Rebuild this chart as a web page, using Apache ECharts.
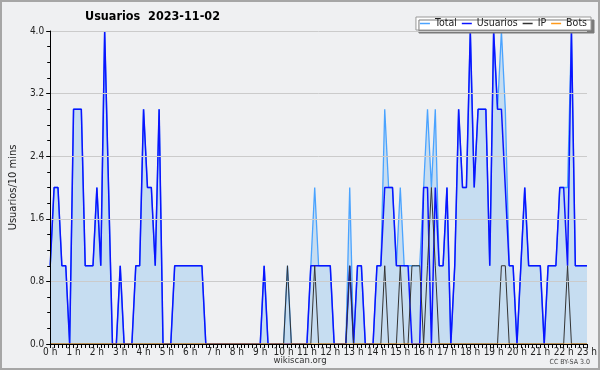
<!DOCTYPE html>
<html><head><meta charset="utf-8">
<script src="https://cdn.jsdelivr.net/npm/echarts@6/dist/echarts.min.js"></script>
<style>html,body{margin:0;padding:0;background:#eff0f2}#c{width:600px;height:370px}</style>
</head><body><div id="c"></div>
<script>
// 10-minute slots from 00:00 to 23:00 (139 points)
var categories = [];
for (var h = 0; h < 24; h++) { for (var m = 0; m < 60; m += 10) { categories.push((h < 10 ? '0' : '') + h + ':' + (m < 10 ? '0' : '') + m); } }
categories = categories.slice(0, 139);

var hourLabels = ['0 h','1 h','2 h','3 h','4 h','5 h','6 h','7 h','8 h','9 h','10 h','11 h','12 h','13 h','14 h','15 h','16 h','17 h','18 h','19 h','20 h','21 h','22 h','23 h'];
var yTicks = [0, 0.8, 1.6, 2.4, 3.2, 4.0];

var total = [
  1,2,2,1,1,0,3,3,3,1,1,1,
  2,1,4,2,0,0,1,0,0,0,1,1,
  3,2,2,1,3,0,0,0,1,1,1,1,
  1,1,1,1,0,0,0,0,0,0,0,0,
  0,0,0,0,0,0,0,1,0,0,0,0,
  0,1,0,0,0,0,0,1,2,1,1,1,
  1,0,0,0,0,2,0,1,1,0,0,0,
  1,1,3,2,2,1,2,1,1,1,1,1,
  2,3,2,3,1,1,2,0,1,3,2,2,
  4,2,3,3,3,1,4,3,4,3,1,1,
  0,1,2,1,1,1,1,0,1,1,1,2,
  2,2,4,1,1,1,1
];
var usuarios = [
  1,2,2,1,1,0,3,3,3,1,1,1,
  2,1,4,2,0,0,1,0,0,0,1,1,
  3,2,2,1,3,0,0,0,1,1,1,1,
  1,1,1,1,0,0,0,0,0,0,0,0,
  0,0,0,0,0,0,0,1,0,0,0,0,
  0,0,0,0,0,0,0,1,1,1,1,1,
  1,0,0,0,0,1,0,1,1,0,0,0,
  1,1,2,2,2,1,1,1,1,0,0,0,
  2,2,0,2,1,1,2,0,1,3,2,2,
  4,2,3,3,3,1,4,3,3,2,1,1,
  0,1,2,1,1,1,1,0,1,1,1,2,
  2,1,4,1,1,1,1
];
var ip = [
  0,0,0,0,0,0,0,0,0,0,0,0,
  0,0,0,0,0,0,0,0,0,0,0,0,
  0,0,0,0,0,0,0,0,0,0,0,0,
  0,0,0,0,0,0,0,0,0,0,0,0,
  0,0,0,0,0,0,0,0,0,0,0,0,
  0,1,0,0,0,0,0,0,1,0,0,0,
  0,0,0,0,0,1,0,0,0,0,0,0,
  0,0,1,0,0,0,1,0,0,1,1,1,
  0,1,2,1,0,0,0,0,0,0,0,0,
  0,0,0,0,0,0,0,0,1,1,0,0,
  0,0,0,0,0,0,0,0,0,0,0,0,
  0,1,0,0,0,0,0
];
var bots = [
  0,0,0,0,0,0,0,0,0,0,0,0,
  0,0,0,0,0,0,0,0,0,0,0,0,
  0,0,0,0,0,0,0,0,0,0,0,0,
  0,0,0,0,0,0,0,0,0,0,0,0,
  0,0,0,0,0,0,0,0,0,0,0,0,
  0,0,0,0,0,0,0,0,0,0,0,0,
  0,0,0,0,0,0,0,0,0,0,0,0,
  0,0,0,0,0,0,0,0,0,0,0,0,
  0,0,0,0,0,0,0,0,0,0,0,0,
  0,0,0,0,0,0,0,0,0,0,0,0,
  0,0,0,0,0,0,0,0,0,0,0,0,
  0,0,0,0,0,0,0
];

var FONT = '"DejaVu Sans Condensed", "Liberation Sans Narrow", "DejaVu Sans"';
var chart = echarts.init(document.getElementById('c'), null, {renderer: 'canvas'});
chart.setOption({
  backgroundColor: '#eff0f2',
  animation: false,
  textStyle: {fontFamily: FONT},
  title: {
    text: 'Usuarios  2023-11-02', left: 80, top: 5,
    textStyle: {fontSize: 12.5, fontWeight: 'bold', color: '#000', fontFamily: FONT}
  },
  legend: {
    right: 9, top: 17, padding: [1, 4, 1, 4], itemGap: 5, itemWidth: 10, itemHeight: 1.5, icon: 'rect',
    backgroundColor: '#ffffff', borderColor: '#999', borderWidth: 1,
    shadowColor: '#7a7a7a', shadowOffsetX: 3, shadowOffsetY: 3, shadowBlur: 0,
    textStyle: {fontSize: 10.5, color: '#222', fontFamily: FONT},
    data: ['Total', 'Usuarios', 'IP', 'Bots']
  },
  grid: {left: 46, right: 11, top: 31, bottom: 26, show: true, backgroundColor: '#eff0f2', borderWidth: 0},
  xAxis: {
    type: 'category', boundaryGap: false, data: categories, z: 10,
    axisLine: {lineStyle: {color: '#000', width: 1}},
    axisTick: {show: true, interval: 0, length: 4, lineStyle: {color: '#000'}},
    axisLabel: {
      interval: function (i) { return i % 6 === 0; },
      formatter: function (v, i) { return hourLabels[i / 6]; },
      fontSize: 10, color: '#222', margin: 3, fontFamily: FONT
    },
    splitLine: {show: false}
  },
  yAxis: {
    type: 'value', min: yTicks[0], max: yTicks[yTicks.length - 1], interval: yTicks[1] - yTicks[0], z: 10,
    name: 'Usuarios/10 mins', nameLocation: 'middle', nameGap: 31,
    nameTextStyle: {fontSize: 11, color: '#222', fontFamily: FONT},
    axisLine: {show: true, lineStyle: {color: '#000'}},
    axisTick: {show: true, length: 4, lineStyle: {color: '#000'}},
    minorTick: {show: true, splitNumber: 4, length: 3, lineStyle: {color: '#000'}},
    axisLabel: {formatter: function (v) { return v.toFixed(1); }, fontSize: 10, color: '#222', margin: 6, fontFamily: FONT},
    splitLine: {show: true, lineStyle: {color: '#cbcbcb', width: 1}}
  },
  series: [
    {name: 'Total', type: 'line', data: total, symbol: 'none', lineStyle: {color: '#4aa3ff', width: 1.3}, itemStyle: {color: '#4aa3ff'},
     areaStyle: {color: '#c6ddf1', opacity: 1}, z: 2},
    {name: 'Usuarios', type: 'line', data: usuarios, symbol: 'none', lineStyle: {color: '#0a14ff', width: 1.5}, itemStyle: {color: '#0a14ff'}, z: 3},
    {name: 'IP', type: 'line', data: ip, symbol: 'none', lineStyle: {color: '#333333', width: 1}, itemStyle: {color: '#333333'}, z: 4},
    {name: 'Bots', type: 'line', data: bots, symbol: 'none', lineStyle: {color: '#ff9a1a', width: 1}, itemStyle: {color: '#ff9a1a'}, z: 5}
  ],
  graphic: [
    {type: 'rect', shape: {x: 1, y: 1, width: 598, height: 368}, style: {fill: 'none', stroke: '#a6a6a6', lineWidth: 2}, z: 100, silent: true},
    {type: 'text', left: 'center', top: 356, style: {text: 'wikiscan.org', fontSize: 9.5, fill: '#333', fontFamily: FONT}},
    {type: 'text', right: 10, top: 359, style: {text: 'CC BY-SA 3.0', fontSize: 7, fill: '#444', fontFamily: FONT}}
  ]
});
</script></body></html>
